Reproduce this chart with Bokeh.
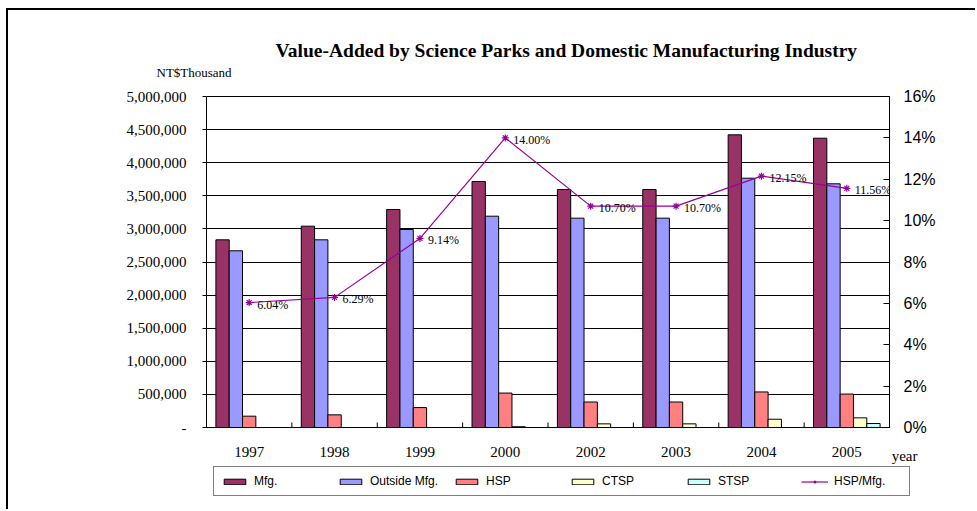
from bokeh.plotting import figure
from bokeh.layouts import column
from bokeh.models import (Range1d, LinearAxis, FixedTicker, SingleIntervalTicker,
                          NumeralTickFormatter, PrintfTickFormatter, Legend, LegendItem,
                          Title, ColumnDataSource)
from bokeh.core.properties import value
from bokeh.embed import file_html
from bokeh.resources import INLINE

# ---------------- data ----------------
years = ["1997", "1998", "1999", "2000", "2002", "2003", "2004", "2005"]
mfg = [2835000, 3041000, 3293000, 3716000, 3595000, 3595000, 4421000, 4370000]
outside_mfg = [2669000, 2835000, 2991000, 3192000, 3162000, 3162000, 3766000, 3681000]
hsp = [171000, 191000, 301000, 520000, 385000, 385000, 537000, 505000]
ctsp = [float("nan"), float("nan"), float("nan"), 12000, 55000, 55000, 125000, 146000]
stsp = [float("nan"), float("nan"), float("nan"), float("nan"), float("nan"), float("nan"), float("nan"), 60000]
hsp_share = [6.04, 6.29, 9.14, 14.00, 10.70, 10.70, 12.15, 11.56]
hsp_share_labels = ["6.04%", "6.29%", "9.14%", "14.00%", "10.70%", "10.70%", "12.15%", "11.56%"]

series_names = ["Mfg.", "Outside Mfg.", "HSP", "CTSP", "STSP"]
series_values = [mfg, outside_mfg, hsp, ctsp, stsp]
series_colors = ["#993366", "#9999FF", "#FF8080", "#FFFFCC", "#CCFFFF"]
line_name = "HSP/Mfg."
line_color = "#990099"

title_text = "Value-Added by Science Parks and Domestic Manufacturing Industry"
unit_text = "NT$Thousand"
x_title_text = "year"

SERIF = "Liberation Serif"
SANS = "Liberation Sans"

n = len(years)
centers = [i + 0.5 for i in range(n)]

# ---------------- main chart ----------------
p = figure(width=967, height=456, output_backend="svg", toolbar_location=None, title=None,
           x_range=Range1d(0, n), y_range=Range1d(0, 5000000),
           min_border_left=198, min_border_right=86, min_border_top=86, min_border_bottom=39,
           background_fill_color="white", border_fill_color="white")

p.outline_line_color = "black"
p.outline_line_width = 1

p.xgrid.visible = False
p.ygrid.grid_line_color = "black"
p.ygrid.grid_line_width = 1
p.ygrid.ticker = SingleIntervalTicker(interval=500000)

# left axis
p.yaxis.ticker = SingleIntervalTicker(interval=500000)
p.yaxis.formatter = NumeralTickFormatter(format="0,0")
p.yaxis.major_label_overrides = {0: "-"}
p.yaxis.major_tick_out = 4
p.yaxis.major_tick_in = 0
p.yaxis.minor_tick_out = 0
p.yaxis.minor_tick_in = 0
p.yaxis.major_label_standoff = 16
p.yaxis.major_label_text_font = SERIF
p.yaxis.major_label_text_font_size = "15px"
p.yaxis.major_label_text_color = "black"
p.yaxis.axis_line_color = "black"

# x axis
p.xaxis.ticker = FixedTicker(ticks=centers)
p.xaxis.major_label_overrides = {c: y for c, y in zip(centers, years)}
p.xaxis.major_tick_out = 0
p.xaxis.major_tick_in = 0
p.xaxis.minor_tick_out = 0
p.xaxis.minor_tick_in = 0
p.xaxis.major_label_standoff = 19
p.xaxis.major_label_text_font = SERIF
p.xaxis.major_label_text_font_size = "15px"
p.xaxis.major_label_text_color = "black"
p.xaxis.axis_line_color = "black"

# right axis (percentage)
p.extra_y_ranges = {"pct": Range1d(0, 16)}
ax2 = LinearAxis(y_range_name="pct", ticker=SingleIntervalTicker(interval=2),
                 formatter=PrintfTickFormatter(format="%d%%"))
ax2.major_tick_in = 6
ax2.major_tick_out = 0
ax2.minor_tick_in = 0
ax2.minor_tick_out = 0
ax2.major_label_standoff = 14
ax2.major_label_text_font = SANS
ax2.major_label_text_font_size = "16px"
ax2.major_label_text_color = "black"
ax2.axis_line_color = "black"
p.add_layout(ax2, "right")

# category boundary ticks on the x axis
bounds = list(range(1, n))
tick_h = 5000000 * 5.0 / 331.0
p.segment(x0=bounds, y0=[0] * len(bounds), x1=bounds, y1=[tick_h] * len(bounds),
          line_color="black", line_width=1)

# bars
bw = 0.156
for k, (name, vals, col) in enumerate(zip(series_names, series_values, series_colors)):
    off = (k - 2) * bw
    src = ColumnDataSource(dict(x=[c + off for c in centers], top=vals))
    p.vbar(x="x", top="top", bottom=0, width=bw, source=src,
           fill_color=col, line_color="black", line_width=1)

# line
lsrc = ColumnDataSource(dict(x=centers, y=hsp_share, lab=hsp_share_labels))
p.line(x="x", y="y", source=lsrc, y_range_name="pct", line_color=line_color, line_width=1.2)
p.scatter(x="x", y="y", source=lsrc, y_range_name="pct", marker="asterisk",
          size=7, line_color=line_color, line_width=1.2)
p.text(x="x", y="y", text="lab", source=lsrc, y_range_name="pct",
       x_offset=8, y_offset=2, text_font=value(SERIF), text_font_size="12px",
       text_color="black", text_baseline="middle", text_align="left")

# unit text (nearest band above the frame), then the main title
p.add_layout(Title(text=unit_text, text_font=SERIF, text_font_size="13px",
                   text_font_style="normal", text_color="black",
                   align="left", offset=-50, vertical_align="top", standoff=30), "above")
p.add_layout(Title(text=title_text, text_font=SERIF, text_font_size="19.5px",
                   text_font_style="bold", text_color="black",
                   align="left", offset=69, vertical_align="bottom", standoff=-23), "above")

# axis name "year" to the right of the year labels
p.add_layout(Title(text=x_title_text, text_font=SERIF, text_font_size="15px",
                   text_font_style="normal", text_color="black",
                   align="right", offset=-28, vertical_align="top", standoff=-24), "below")

# ---------------- legend strip ----------------
lf = figure(width=967, height=43, output_backend="svg", toolbar_location=None, title=None,
            x_range=Range1d(0, 1), y_range=Range1d(0, 1),
            x_axis_type=None, y_axis_type=None,
            min_border_left=0, min_border_right=0, min_border_top=0, min_border_bottom=0,
            background_fill_color="white", border_fill_color="white")
lf.outline_line_color = None
lf.xgrid.visible = False
lf.ygrid.visible = False
if "frame_align" in lf.properties():
    lf.frame_align = False
    legend_x = 205
else:
    legend_x = 7

# legend proxies: one point each, placed outside the strip's visible range
items = []
for name, col in zip(series_names, series_colors):
    r = lf.vbar(x=[-5], top=[0], bottom=0, width=0.1, fill_color=col,
                line_color="black", line_width=1)
    items.append(LegendItem(label=name, renderers=[r]))
lr = lf.line(x=[-6, -5], y=[0, 0], line_color=line_color, line_width=1.2)
sr = lf.scatter(x=[-5], y=[0], marker="asterisk", size=7, line_color=line_color, line_width=1.2)
items.append(LegendItem(label=line_name, renderers=[lr, sr]))

legend = Legend(items=items, orientation="horizontal", location=(legend_x, 13),
                glyph_width=27, glyph_height=7, label_standoff=6,
                label_width=68, label_height=14, spacing=15, padding=7, margin=0,
                label_text_font=SANS, label_text_font_size="12px",
                label_text_color="black",
                border_line_color="black", border_line_width=1,
                background_fill_color="white", background_fill_alpha=1)
lf.add_layout(legend, "center")

layout = column(p, lf, spacing=0,
                styles={"border-left": "2px solid black", "border-top": "2px solid black",
                        "margin-left": "6px", "margin-top": "8px"})

open("out.html", "w").write(file_html(layout, INLINE))
